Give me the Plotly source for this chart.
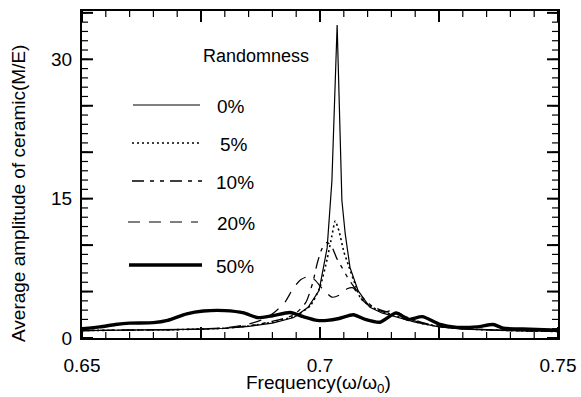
import numpy as np
import plotly.graph_objects as go

# ---------------- data ----------------
f0 = [0.650, 0.660, 0.670, 0.675, 0.680, 0.685, 0.690, 0.6945, 0.6975, 0.6998, 0.7015, 0.7025,
      0.7036, 0.7046, 0.7053, 0.7063, 0.708, 0.7105, 0.713, 0.716, 0.720, 0.725, 0.730, 0.740, 0.750]
a0 = [0.8, 0.85, 0.9, 0.95, 1.05, 1.25, 1.6, 2.2, 3.3, 5.1, 9.7, 16.9,
      33.7, 14.8, 11.2, 7.6, 5.1, 3.3, 2.7, 2.3, 1.7, 1.2, 0.95, 0.8, 0.7]

f5 = [0.650, 0.660, 0.670, 0.680, 0.685, 0.690, 0.695, 0.698, 0.700, 0.7015, 0.7025, 0.7032,
      0.704, 0.705, 0.706, 0.7075, 0.7085, 0.711, 0.714, 0.7155, 0.718, 0.722, 0.726, 0.732, 0.740, 0.750]
a5 = [0.8, 0.85, 0.9, 1.05, 1.3, 1.7, 2.4, 3.5, 5.5, 8.5, 11.0, 12.6,
      11.5, 9.3, 7.8, 5.6, 4.3, 3.3, 2.7, 2.5, 2.0, 1.5, 1.2, 0.95, 0.8, 0.7]

f10 = [0.650, 0.660, 0.670, 0.680, 0.685, 0.690, 0.6945, 0.697, 0.6985, 0.6994, 0.7004, 0.7015,
       0.7025, 0.7035, 0.7046, 0.7057, 0.707, 0.709, 0.711, 0.7135, 0.716, 0.719, 0.723, 0.730, 0.740, 0.750]
a10 = [0.8, 0.85, 0.9, 1.05, 1.3, 1.8, 2.5, 3.8, 6.0, 8.0, 9.6, 10.3,
       9.8, 8.6, 7.6, 6.6, 5.6, 4.3, 3.4, 2.9, 2.6, 2.0, 1.4, 1.0, 0.8, 0.7]

f20 = [0.650, 0.660, 0.670, 0.680, 0.685, 0.688, 0.6905, 0.6927, 0.6943, 0.696, 0.6975, 0.699,
       0.7005, 0.7025, 0.704, 0.7057, 0.707, 0.7085, 0.711, 0.7135, 0.7155, 0.718, 0.722, 0.727,
       0.735, 0.750]
a20 = [0.8, 0.85, 0.9, 1.1, 1.5, 2.0, 2.8, 3.9, 5.3, 6.3, 6.6, 6.2,
       5.3, 4.4, 4.6, 5.3, 5.4, 4.3, 3.2, 2.8, 3.0, 2.3, 1.6, 1.1,
       0.9, 0.7]

f50 = [0.650, 0.6538, 0.657, 0.660, 0.665, 0.668, 0.672, 0.6755, 0.680, 0.684, 0.6868, 0.690,
       0.6937, 0.6965, 0.6994, 0.7015, 0.704, 0.707, 0.7095, 0.7126, 0.716, 0.7185, 0.7215,
       0.725, 0.7288, 0.733, 0.7364, 0.7385, 0.744, 0.750]
a50 = [1.0, 1.2, 1.45, 1.6, 1.65, 1.9, 2.6, 2.9, 2.95, 2.7, 2.2, 2.4,
       2.75, 2.3, 1.9, 1.9, 2.1, 2.5, 2.0, 1.7, 2.7, 2.0, 2.3,
       1.5, 1.15, 1.2, 1.45, 1.05, 0.95, 0.85]

series_names = ["0%", "5%", "10%", "20%", "50%"]
x_tick_labels = ["0.65", "0.7", "0.75"]
x_tick_vals = [0.65, 0.70, 0.75]
y_tick_labels = ["0", "15", "30"]
y_tick_vals = [0, 15, 30]
X_RANGE = [0.65, 0.75]
Y_RANGE = [0, 35.2]

# tick positions (axis decoration)
x_major = np.round(np.arange(0.65, 0.7501, 0.025), 4)
x_minor = np.round(np.arange(0.65, 0.7501, 0.005), 4)
y_major = np.arange(0, 36, 5)
y_minor = np.arange(0, 36, 1)

# ---------------- styles ----------------
styles = [
    dict(width=1.2, dash="solid", shape="linear"),
    dict(width=1.6, dash="2px,3px", shape="spline"),
    dict(width=1.3, dash="12px,6px,4px,6px,4px,6px", shape="spline"),
    dict(width=1.2, dash="12px,9px", shape="spline"),
    dict(width=3.4, dash="solid", shape="spline"),
]
data = [(f0, a0), (f5, a5), (f10, a10), (f20, a20), (f50, a50)]

FONT = "Liberation Sans, Arial, Helvetica, sans-serif"
W, H = 581, 397
L, R, T, B = 82, 23, 11, 59
PW, PH = W - L - R, H - T - B


def px(x):
    return (x - L) / PW


def py(y):
    return (H - B - y) / PH


fig = go.Figure()
for (fx, ay), st, nm in zip(data, styles, series_names):
    line = dict(color="black", width=st["width"], dash=st["dash"], shape=st["shape"])
    if st["shape"] == "spline":
        line["smoothing"] = 0.6
    fig.add_trace(go.Scatter(x=fx, y=ay, mode="lines", name=nm, showlegend=False, line=line))

shapes = []
# ticks on all four sides, pointing inward
MAJ_LEN, MIN_LEN = 11, 6
for xs, ln, wd in ((x_minor, MIN_LEN, 1.2), (x_major, MAJ_LEN, 2)):
    for xv in xs:
        for y0, y1 in ((0, ln / PH), (1, 1 - ln / PH)):
            shapes.append(dict(type="line", xref="x", yref="paper", x0=float(xv), x1=float(xv),
                               y0=y0, y1=y1, line=dict(color="black", width=wd), layer="above"))
for ys, ln, wd in ((y_minor, MIN_LEN, 1.2), (y_major, MAJ_LEN, 2)):
    for yv in ys:
        for x0, x1 in ((0, ln / PW), (1, 1 - ln / PW)):
            shapes.append(dict(type="line", xref="paper", yref="y", x0=x0, x1=x1,
                               y0=float(yv), y1=float(yv), line=dict(color="black", width=wd),
                               layer="above"))

# manual legend
legend_rows = [  # (x0, x1, y_line, x_text)
    (133, 200, 105, 231),
    (132, 201, 143, 234),
    (132, 202, 181, 235),
    (128, 198, 222, 236),
    (129, 202, 265, 235),
]
annotations = []
for (x0, x1, yl, xt), st, nm in zip(legend_rows, styles, series_names):
    shapes.append(dict(type="line", xref="paper", yref="paper",
                       x0=px(x0), x1=px(x1), y0=py(yl), y1=py(yl),
                       line=dict(color="black", width=st["width"], dash=st["dash"])))
    annotations.append(dict(text=nm, xref="paper", yref="paper", x=px(xt), y=py(yl + 1),
                            xanchor="center", yanchor="middle", showarrow=False,
                            font=dict(size=19, color="black", family=FONT)))
annotations.append(dict(text="Randomness", xref="paper", yref="paper", x=px(256), y=py(56),
                        xanchor="center", yanchor="middle", showarrow=False,
                        font=dict(size=18, color="black", family=FONT)))
# axis titles
annotations.append(dict(text="Frequency(ω/ω<sub>0</sub>)", xref="paper", yref="paper",
                        x=px(318), y=py(384), xanchor="center", yanchor="middle",
                        showarrow=False, font=dict(size=19, color="black", family=FONT)))
annotations.append(dict(text="Average amplitude of ceramic(M/E)", xref="paper", yref="paper",
                        x=px(18), y=py(194), xanchor="center", yanchor="middle",
                        showarrow=False, textangle=-90,
                        font=dict(size=19, color="black", family=FONT)))

tick_font = dict(size=19, color="black", family=FONT)

fig.update_layout(
    width=W, height=H,
    margin=dict(l=L, r=R, t=T, b=B),
    paper_bgcolor="white", plot_bgcolor="white",
    shapes=shapes, annotations=annotations,
    xaxis=dict(range=X_RANGE, tickmode="array", tickvals=x_tick_vals, ticktext=x_tick_labels,
               ticks="", showline=True, linecolor="black", linewidth=2, mirror=True,
               showgrid=False, zeroline=False, automargin=False,
               tickfont=tick_font, ticklabelstandoff=9),
    yaxis=dict(range=Y_RANGE, tickmode="array", tickvals=y_tick_vals, ticktext=y_tick_labels,
               ticks="", showline=True, linecolor="black", linewidth=2, mirror=True,
               showgrid=False, zeroline=False, automargin=False,
               tickfont=tick_font, ticklabelstandoff=4),
)

fig.write_html("out.html")
